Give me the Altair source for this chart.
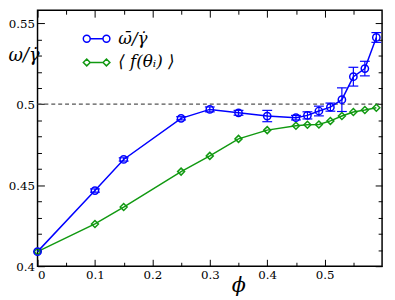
import altair as alt
import pandas as pd

# ---- data ----
phi = [0.0, 0.1, 0.15, 0.25, 0.3, 0.35, 0.4, 0.45, 0.47, 0.49, 0.51, 0.53, 0.55, 0.57, 0.59]
omega = [0.409, 0.4467, 0.4659, 0.4913, 0.4968, 0.4947, 0.4927, 0.4917, 0.4931, 0.4958,
         0.4982, 0.5028, 0.5170, 0.5220, 0.5412]
omega_err = [0.0, 0.001, 0.001, 0.001, 0.0015, 0.0015, 0.0035, 0.0014, 0.0022, 0.003,
             0.0025, 0.0073, 0.0058, 0.0045, 0.003]
f_mean = [0.409, 0.4261, 0.4365, 0.4584, 0.4681, 0.4786, 0.4840, 0.4867, 0.4873, 0.4875,
          0.4897, 0.4927, 0.4952, 0.4964, 0.4978]

series_keys = ["omega", "f"]
series_labels = ["\u03c9\u0304/\u03b3\u0307", "\u27e8 f(\u03b8\u1d62) \u27e9"]
colors = ["#0000ff", "#119911"]
ref_value = 0.5
x_domain = [0.0, 0.6]
y_domain = [0.4, 0.558]
x_ticks = [round(0.05 * i, 2) for i in range(12)]
y_ticks = [round(0.40 + 0.01 * i, 2) for i in range(16)]

FONT = "DejaVu Serif"

df_o = pd.DataFrame({"phi": phi, "val": omega, "series": "omega",
                     "lo": [v - e for v, e in zip(omega, omega_err)],
                     "hi": [v + e for v, e in zip(omega, omega_err)]})
df_o_err = df_o[df_o["phi"] > 0]
df_f = pd.DataFrame({"phi": phi, "val": f_mean, "series": "f"})
df_all = pd.concat([df_o[["phi", "val", "series"]], df_f])

label_map = "{'omega': '%s', 'f': '%s'}" % (series_labels[0], series_labels[1])

x_major = "round(datum.value*100) % 10 == 0"
y_major = "round(datum.value*100) % 5 == 0"


def x_axis(orient, labels=True):
    return alt.Axis(orient=orient, values=x_ticks, labels=labels,
                    labelExpr=f"{x_major} ? format(datum.value, '~g') : ''",
                    tickSize={"condition": {"test": x_major, "value": -7}, "value": -4},
                    tickColor="black", tickWidth=1, domain=False, grid=False,
                    labelFont=FONT, labelFontSize=12, labelColor="black", labelPadding=11,
                    title="\u03d5" if labels else None, titleFont=FONT, titleFontSize=21,
                    titleFontStyle="italic", titleFontWeight="normal", titleColor="black",
                    titleX=204, titleY=20, titleBaseline="middle", titleAlign="center")


def y_axis(orient, labels=True):
    return alt.Axis(orient=orient, values=y_ticks, labels=labels,
                    labelExpr=f"{y_major} ? format(datum.value, '~g') : ''",
                    tickSize={"condition": {"test": y_major, "value": -7}, "value": -4},
                    tickColor="black", tickWidth=1, domain=False, grid=False,
                    labelFont=FONT, labelFontSize=12, labelColor="black", labelPadding=10,
                    title="\u03c9/\u03b3\u0307" if labels else None, titleFont=FONT,
                    titleFontSize=18, titleFontStyle="italic", titleFontWeight="normal",
                    titleColor="black", titleAngle=0, titleAlign="left", titleBaseline="middle",
                    titleX=-30, titleY=46)


xs = alt.Scale(domain=x_domain, nice=False, zero=False)
ys = alt.Scale(domain=y_domain, nice=False, zero=False)

X = alt.X("phi:Q", scale=xs, axis=x_axis("bottom"))
Y = alt.Y("val:Q", scale=ys, axis=y_axis("left"))

path_c = ("M-1.35,0 a0.35,0.35 0 1,0 0.7,0 a0.35,0.35 0 1,0 -0.7,0 "
          "M-0.65,0 L0.65,0 "
          "M0.65,0 a0.35,0.35 0 1,0 0.7,0 a0.35,0.35 0 1,0 -0.7,0")
path_d = ("M-1.35,0 L-1,-0.35 L-0.65,0 L-1,0.35 Z "
          "M-0.65,0 L0.65,0 "
          "M0.65,0 L1,-0.35 L1.35,0 L1,0.35 Z")

legend = alt.Legend(
    title=None, orient="none", legendX=49, legendY=18, padding=0,
    labelFont=FONT, labelFontSize=17, labelFontStyle="italic", labelColor="black",
    labelOffset=11, symbolSize=400, rowPadding=5, symbolStrokeWidth=1.5, symbolOpacity=1,
    symbolFillColor="transparent",
    labelExpr=f"{label_map}[datum.value]")

cscale = alt.Scale(domain=series_keys, range=colors)
color = alt.Color("series:N", scale=cscale, legend=legend)
shape = alt.Shape("series:N", scale=alt.Scale(domain=series_keys, range=[path_c, path_d]),
                  legend=legend)

line_o = alt.Chart(df_o).mark_line(strokeWidth=1.5).encode(x=X, y=Y, color=color)
line_f = alt.Chart(df_f).mark_line(strokeWidth=1.5).encode(x=X, y=Y, color=color)
err_rule = alt.Chart(df_o_err).mark_rule(strokeWidth=1.2).encode(
    x=X, y=alt.Y("lo:Q", scale=ys, axis=y_axis("left")), y2="hi:Q", color=color)
err_lo = alt.Chart(df_o_err).mark_rule(strokeWidth=1.2, xOffset=-5, x2Offset=5).encode(
    x=X, x2="phi:Q", y=alt.Y("lo:Q", scale=ys, axis=y_axis("left")), color=color)
err_hi = alt.Chart(df_o_err).mark_rule(strokeWidth=1.2, xOffset=-5, x2Offset=5).encode(
    x=X, x2="phi:Q", y=alt.Y("hi:Q", scale=ys, axis=y_axis("left")), color=color)
pts_o = alt.Chart(df_o).mark_point(shape="circle", size=55, filled=False, strokeWidth=1.5,
                                   opacity=1).encode(x=X, y=Y, color=color)
pts_f = alt.Chart(df_f).mark_point(shape="diamond", size=50, filled=False, strokeWidth=1.5,
                                   opacity=1).encode(x=X, y=Y, color=color)
leg_layer = alt.Chart(df_all).mark_point(filled=False, opacity=0).encode(
    x=X, y=Y, color=color, shape=shape)

main = alt.layer(line_f, line_o, err_rule, err_lo, err_hi, pts_f, pts_o, leg_layer)

ref_df = pd.DataFrame({"y": [ref_value], "x0": [x_domain[0]], "x1": [x_domain[1]]})
ref = alt.Chart(ref_df).mark_rule(color="#555555", strokeDash=[4, 3], strokeWidth=1.2).encode(
    x=alt.X("x0:Q", scale=xs, axis=x_axis("top", labels=False)),
    x2="x1:Q",
    y=alt.Y("y:Q", scale=ys, axis=y_axis("right", labels=False)))

chart = alt.layer(ref, main).resolve_scale(x="independent", y="independent").properties(
    width=350, height=260,
    autosize=alt.AutoSizeParams(type="none"),
    padding={"left": 30, "top": 0, "right": 5, "bottom": 30},
).configure_view(stroke="black", strokeWidth=1.5)

chart.save("out.html", embed_options={"renderer": "svg", "actions": False})
